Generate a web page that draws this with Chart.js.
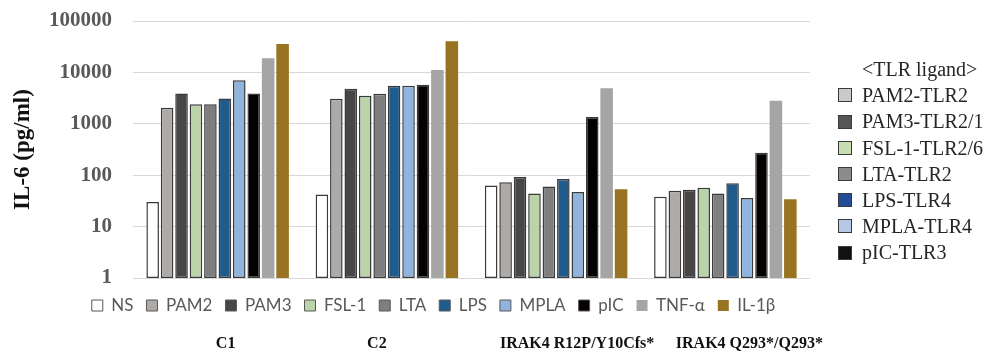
<!DOCTYPE html>
<html>
<head>
<meta charset="utf-8">
<script src="https://cdn.jsdelivr.net/npm/chart.js@4/dist/chart.umd.min.js"></script>
<style>
  html, body { margin: 0; padding: 0; background: #fff; }
  #wrap { position: relative; width: 992px; height: 355px; }
  #chart { position: absolute; left: 0; top: 0; }
  #tlr { position: absolute; left: 838px; top: 56px; font-family: "Liberation Serif", serif; font-size: 20px; color: #262626; line-height: 26.2px; }
  #tlr .title { padding-left: 24px; }
  #tlr .item { display: flex; align-items: center; white-space: nowrap; }
  #tlr .sw { width: 12px; height: 12px; border: 1px solid #3a3a3a; margin-right: 10px; box-sizing: content-box; }
</style>
</head>
<body>
<div id="wrap">
  <canvas id="chart" width="992" height="355"></canvas>
  <div id="tlr"></div>
</div>
<script>
// Patient groups on the x axis
const groups = ['C1', 'C2', 'IRAK4 R12P/Y10Cfs*', 'IRAK4 Q293*/Q293*'];

// Stimuli (one bar per stimulus in each group)
const stimuli = ['NS', 'PAM2', 'PAM3', 'FSL-1', 'LTA', 'LPS', 'MPLA', 'pIC', 'TNF-α', 'IL-1β'];

// IL-6 (pg/ml) per stimulus, in group order
const ns   = [30, 42, 63, 38];
const pam2 = [2050, 3070, 73, 50];
const pam3 = [3900, 4800, 92, 52];
const fsl1 = [2400, 3500, 44, 57];
const lta  = [2400, 3850, 60, 44];
const lps  = [3100, 5500, 84, 70];
const mpla = [7000, 5500, 47, 36];
const pic  = [3900, 5750, 1350, 272];
const tnf  = [18800, 11100, 4900, 2800];
const il1b = [35700, 40300, 53, 34];

// Decade ticks of the log axis
const yTicks = [1, 10, 100, 1000, 10000, 100000];

// Ligand / receptor key
const ligandTitle = '<TLR ligand>';
const ligands = ['PAM2-TLR2', 'PAM3-TLR2/1', 'FSL-1-TLR2/6', 'LTA-TLR2', 'LPS-TLR4', 'MPLA-TLR4', 'pIC-TLR3'];

// Styling
const fills   = ['#ffffff', '#aeaaa7', '#474747', '#bad3a9', '#7f7f7f', '#1f5b8d', '#8fb4dd', '#050000', '#a5a5a5', '#977322'];
const outline = [true, true, true, true, true, true, true, true, false, false];
const ligandFills = ['#cacaca', '#555555', '#c6deb2', '#8c8c8c', '#234b97', '#b6c8e6', '#111111'];
const groupLabelNudge = [8, -10, 21, 24];

const series = [ns, pam2, pam3, fsl1, lta, lps, mpla, pic, tnf, il1b];

const datasets = stimuli.map((name, i) => ({
  label: name,
  data: series[i],
  backgroundColor: fills[i],
  borderColor: '#3a3a3a',
  borderWidth: outline[i] ? 1.5 : 0,
  borderSkipped: false,
  categoryPercentage: 0.853,
  barPercentage: 0.87
}));

// Group names drawn under the legend; legend row nudged into place
const groupLabels = {
  id: 'groupLabels',
  afterLayout(chart) {
    const lg = chart.legend;
    lg.top += 6;
    lg.bottom += 6;
    lg.left += 24;
    lg.right += 24;
  },
  afterDraw(chart) {
    const { ctx, scales: { x } } = chart;
    ctx.save();
    ctx.font = 'bold 16px "Liberation Serif"';
    ctx.fillStyle = '#111';
    ctx.textAlign = 'center';
    ctx.textBaseline = 'middle';
    groups.forEach((g, i) => {
      ctx.fillText(g, x.getPixelForValue(i) + groupLabelNudge[i], 344);
    });
    ctx.restore();
  }
};

new Chart(document.getElementById('chart'), {
  type: 'bar',
  data: { labels: groups, datasets },
  plugins: [groupLabels],
  options: {
    responsive: false,
    animation: false,
    devicePixelRatio: 1,
    layout: { padding: { left: 9, right: 182, top: 21, bottom: 37 } },
    plugins: {
      tooltip: { enabled: false },
      legend: {
        position: 'bottom',
        labels: {
          boxWidth: 11,
          boxHeight: 11,
          padding: 13,
          color: '#595959',
          font: { family: 'Lato', size: 17 },
          generateLabels(chart) {
            const items = Chart.defaults.plugins.legend.labels.generateLabels(chart);
            items.forEach((it, i) => {
              it.lineWidth = outline[i] ? 1 : 0;
              it.strokeStyle = '#595959';
            });
            return items;
          }
        }
      }
    },
    scales: {
      x: { display: false },
      y: {
        type: 'logarithmic',
        min: 1,
        max: 100000,
        afterBuildTicks(scale) {
          scale.ticks = yTicks.map(v => ({ value: v }));
        },
        afterFit(scale) { scale.width = 124; },
        border: { display: false },
        grid: { color: '#d9d9d9', lineWidth: 1, drawTicks: true, tickLength: 18, tickColor: 'rgba(0,0,0,0)' },
        ticks: {
          padding: 3,
          color: '#595959',
          font: { family: 'Liberation Serif', size: 21, weight: 'bold' },
          callback: v => String(v)
        },
        title: {
          display: true,
          text: 'IL-6 (pg/ml)',
          color: '#111',
          padding: { top: 0, bottom: 0 },
          font: { family: 'Liberation Serif', size: 23, weight: 'bold' }
        }
      }
    }
  }
});

// Ligand key on the right
const key = document.getElementById('tlr');
const t = document.createElement('div');
t.className = 'title';
t.textContent = ligandTitle;
key.appendChild(t);
ligands.forEach((name, i) => {
  const row = document.createElement('div');
  row.className = 'item';
  const sw = document.createElement('span');
  sw.className = 'sw';
  sw.style.background = ligandFills[i];
  const tx = document.createElement('span');
  tx.textContent = name;
  row.appendChild(sw);
  row.appendChild(tx);
  key.appendChild(row);
});
</script>
</body>
</html>
